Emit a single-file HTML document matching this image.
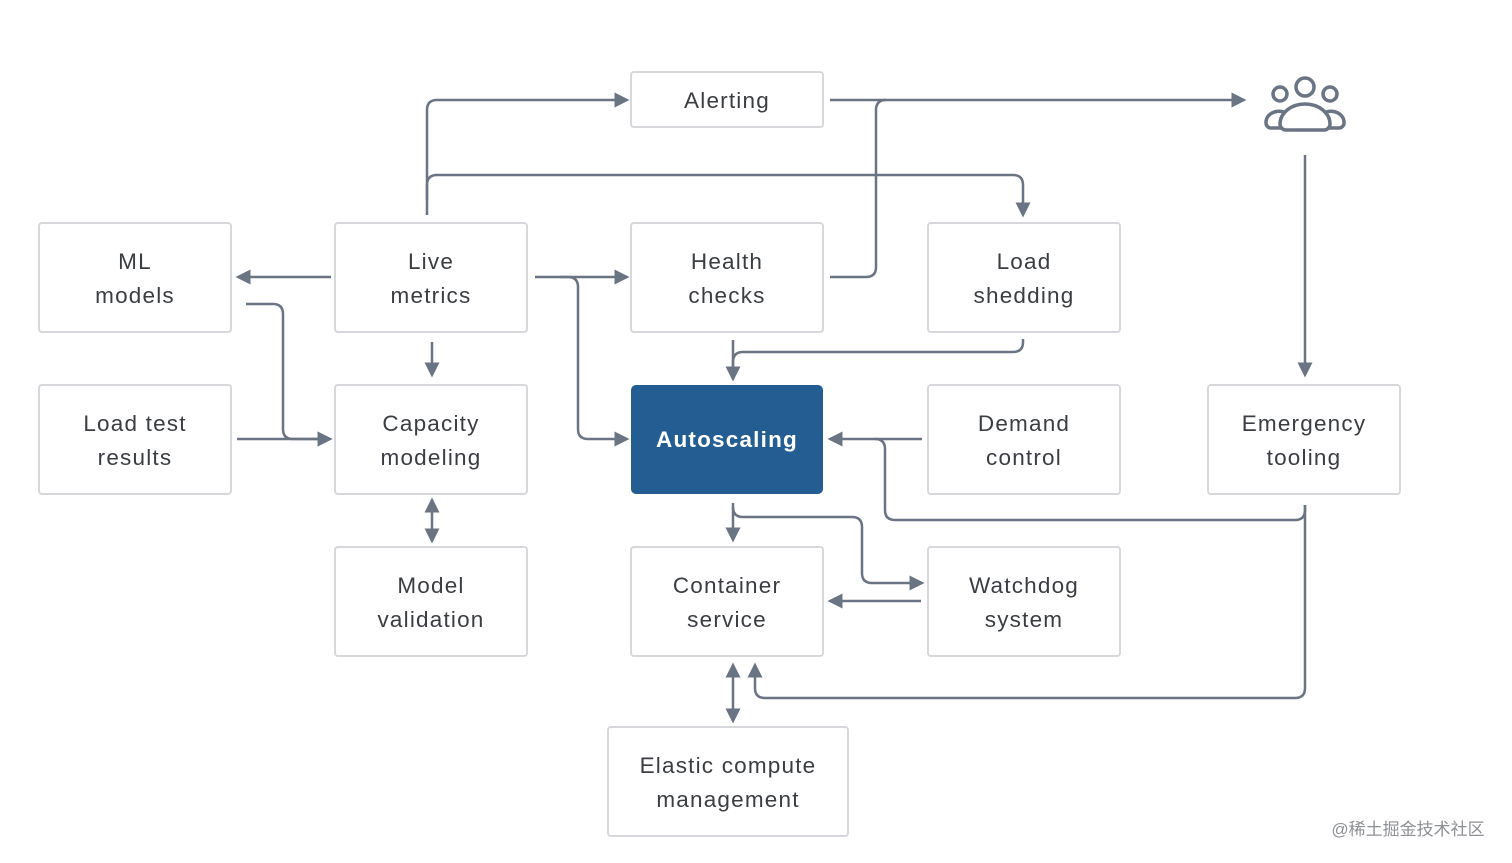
<!DOCTYPE html>
<html><head><meta charset="utf-8"><style>
html,body{margin:0;padding:0;background:#fff}
svg{display:block}
text{font-family:"Liberation Sans","Noto Sans CJK SC",sans-serif;font-size:22.5px;fill:#3a3d42;text-anchor:middle;letter-spacing:1.2px}
.b{fill:#fff;stroke:#d6d8db;stroke-width:2}
.l{fill:none;stroke:#6b7483;stroke-width:2.5}
</style></head><body>
<svg width="1512" height="863" viewBox="0 0 1512 863">
<defs>
<marker id="a" viewBox="0 0 12 12" refX="10" refY="6" markerWidth="15" markerHeight="15" markerUnits="userSpaceOnUse" orient="auto-start-reverse"><path d="M0,0 L12,6 L0,12z" fill="#6b7483"/></marker>
</defs>
<rect class="b" x="631" y="72" width="192" height="55" rx="3"/>
<rect class="b" x="39" y="223" width="192" height="109" rx="3"/>
<rect class="b" x="335" y="223" width="192" height="109" rx="3"/>
<rect class="b" x="631" y="223" width="192" height="109" rx="3"/>
<rect class="b" x="928" y="223" width="192" height="109" rx="3"/>
<rect class="b" x="39" y="385" width="192" height="109" rx="3"/>
<rect class="b" x="335" y="385" width="192" height="109" rx="3"/>
<rect x="631" y="385" width="192" height="109" rx="5" fill="#245d92"/>
<rect class="b" x="928" y="385" width="192" height="109" rx="3"/>
<rect class="b" x="1208" y="385" width="192" height="109" rx="3"/>
<rect class="b" x="335" y="547" width="192" height="109" rx="3"/>
<rect class="b" x="631" y="547" width="192" height="109" rx="3"/>
<rect class="b" x="928" y="547" width="192" height="109" rx="3"/>
<rect class="b" x="608" y="727" width="240" height="109" rx="3"/>
<text x="727" y="108">Alerting</text>
<text x="135" y="269">ML</text><text x="135" y="303">models</text>
<text x="431" y="269">Live</text><text x="431" y="303">metrics</text>
<text x="727" y="269">Health</text><text x="727" y="303">checks</text>
<text x="1024" y="269">Load</text><text x="1024" y="303">shedding</text>
<text x="135" y="431">Load test</text><text x="135" y="465">results</text>
<text x="431" y="431">Capacity</text><text x="431" y="465">modeling</text>
<text x="727" y="447" style="fill:#fff;font-weight:bold">Autoscaling</text>
<text x="1024" y="431">Demand</text><text x="1024" y="465">control</text>
<text x="1304" y="431">Emergency</text><text x="1304" y="465">tooling</text>
<text x="431" y="593">Model</text><text x="431" y="627">validation</text>
<text x="727" y="593">Container</text><text x="727" y="627">service</text>
<text x="1024" y="593">Watchdog</text><text x="1024" y="627">system</text>
<text x="728" y="773">Elastic compute</text><text x="728" y="807">management</text>
<g fill="none" stroke="#6b7483" stroke-width="3.5">
<circle cx="1305" cy="87" r="9"/><circle cx="1280" cy="94" r="7"/><circle cx="1330" cy="94" r="7"/>
<path d="M1286,130 h38 a6,6 0 0 0 6,-6 a20,16 0 0 0 -50,0 a6,6 0 0 0 6,6z"/>
<path d="M1281,128 h-10 a5,5 0 0 1 -5,-5 a13,11 0 0 1 20,-10"/>
<path d="M1329,128 h10 a5,5 0 0 0 5,-5 a13,11 0 0 0 -20,-10"/>
</g>
<path class="l" d="M427,215 V110 Q427,100 437,100 H627" marker-end="url(#a)"/>
<path class="l" d="M830,100 H1244" marker-end="url(#a)"/>
<path class="l" d="M830,277 H866 Q876,277 876,267 V110 Q876,100 886,100"/>
<path class="l" d="M427,200 V185 Q427,175 437,175 H1013 Q1023,175 1023,185 V215" marker-end="url(#a)"/>
<path class="l" d="M331,277 H238" marker-end="url(#a)"/>
<path class="l" d="M246,304 H273 Q283,304 283,314 V429 Q283,439 293,439 H330" marker-end="url(#a)"/>
<path class="l" d="M237,439 H330" marker-end="url(#a)"/>
<path class="l" d="M432,342 V375" marker-end="url(#a)"/>
<path class="l" d="M535,277 H627" marker-end="url(#a)"/>
<path class="l" d="M560,277 H568 Q578,277 578,287 V429 Q578,439 588,439 H627" marker-end="url(#a)"/>
<path class="l" d="M1023,339 V342 Q1023,352 1013,352 H743 Q733,352 733,362 V378"/>
<path class="l" d="M733,340 V379" marker-end="url(#a)"/>
<path class="l" d="M922,439 H830" marker-end="url(#a)"/>
<path class="l" d="M1305,505 V510 Q1305,520 1295,520 H895 Q885,520 885,510 V449 Q885,439 875,439"/>
<path class="l" d="M1305,155 V375" marker-end="url(#a)"/>
<path class="l" d="M733,503 V540" marker-end="url(#a)"/>
<path class="l" d="M733,507 Q733,517 743,517 H852 Q862,517 862,527 V573 Q862,583 872,583 H922" marker-end="url(#a)"/>
<path class="l" d="M921,601 H830" marker-end="url(#a)"/>
<path class="l" d="M432,500 V541" marker-start="url(#a)" marker-end="url(#a)"/>
<path class="l" d="M733,665 V721" marker-start="url(#a)" marker-end="url(#a)"/>
<path class="l" d="M1305,505 V688 Q1305,698 1295,698 H765 Q755,698 755,688 V665" marker-end="url(#a)"/>
<text x="1408" y="835" style="font-size:17px;fill:#8e9196;letter-spacing:0">@稀土掘金技术社区</text>
</svg>
</body></html>
